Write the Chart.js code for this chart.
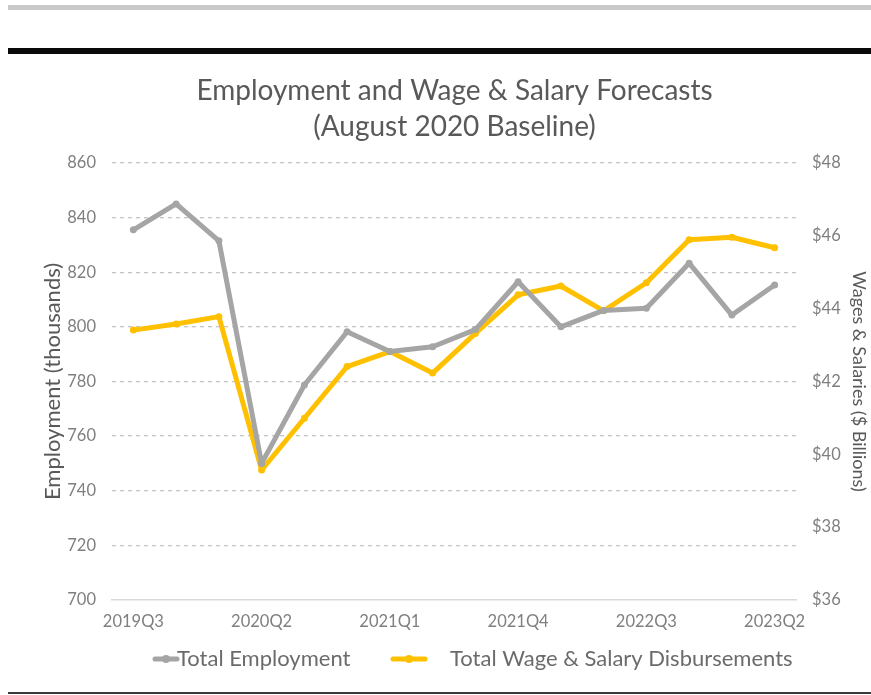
<!DOCTYPE html>
<html>
<head>
<meta charset="utf-8">
<title>Employment and Wage &amp; Salary Forecasts</title>
<script src="https://cdn.jsdelivr.net/npm/chart.js@4.4.1/dist/chart.umd.min.js"></script>
<style>
  html, body { margin: 0; padding: 0; background: #ffffff; }
  #wrap { width: 871px; height: 695px; position: relative; }
</style>
</head>
<body>
<div id="wrap"><canvas id="chart" width="871" height="695"></canvas></div>
<script>
// Quarterly forecast horizon
const quarters = [
  '2019Q3', '2019Q4', '2020Q1', '2020Q2', '2020Q3', '2020Q4', '2021Q1', '2021Q2',
  '2021Q3', '2021Q4', '2022Q1', '2022Q2', '2022Q3', '2022Q4', '2023Q1', '2023Q2'
];

// Total employment, thousands (left axis)
const employment = [
  835.5, 845.0, 831.5, 750.0, 778.7, 798.2, 791.0, 792.7,
  799.0, 816.5, 800.0, 806.0, 806.8, 823.3, 804.3, 815.3
];

// Total wage & salary disbursements, $ billions (right axis)
const wages = [
  43.41, 43.58, 43.78, 39.57, 40.99, 42.41, 42.82, 42.23,
  43.32, 44.38, 44.62, 43.94, 44.71, 45.89, 45.96, 45.67
];

// Axis ranges
const employmentRange = { min: 700, max: 860, step: 20 };
const wageRange = { min: 36, max: 48, step: 2 };

const GRAY = '#a5a5a5';
const GOLD = '#ffc000';
const FONT = 'Lato, "Open Sans", sans-serif';

// Page rules above and below the chart
const pageRules = {
  id: 'pageRules',
  beforeDraw(chart) {
    const { ctx, width } = chart;
    ctx.save();
    ctx.fillStyle = '#c9c9c9';
    ctx.fillRect(8, 5, width - 8, 5);
    ctx.fillStyle = '#0a0a0a';
    ctx.fillRect(8, 48, width - 8, 6);
    ctx.fillStyle = '#3a3a3a';
    ctx.fillRect(8, 692, width - 8, 2);
    ctx.restore();
  }
};

// Legend drawn as line-with-marker swatches under the x axis
const lineLegend = {
  id: 'lineLegend',
  afterDraw(chart) {
    const { ctx } = chart;
    const items = [
      { ds: chart.data.datasets[0], x0: 155, x1: 177, tx: 177 },
      { ds: chart.data.datasets[1], x0: 393, x1: 425, tx: 450 }
    ];
    const y = 659;
    ctx.save();
    ctx.font = '22px ' + FONT;
    ctx.textBaseline = 'middle';
    ctx.textAlign = 'left';
    items.forEach(it => {
      ctx.strokeStyle = it.ds.borderColor;
      ctx.lineWidth = 5;
      ctx.lineCap = 'round';
      ctx.beginPath();
      ctx.moveTo(it.x0, y);
      ctx.lineTo(it.x1, y);
      ctx.stroke();
      ctx.fillStyle = it.ds.borderColor;
      ctx.beginPath();
      ctx.arc((it.x0 + it.x1) / 2, y, 4, 0, Math.PI * 2);
      ctx.fill();
      ctx.fillStyle = '#6b6b6b';
      ctx.fillText(it.ds.label, it.tx, y);
    });
    ctx.restore();
  }
};

new Chart(document.getElementById('chart'), {
  type: 'line',
  data: {
    labels: quarters,
    datasets: [
      {
        label: 'Total Employment',
        data: employment,
        yAxisID: 'y',
        borderColor: GRAY,
        backgroundColor: GRAY,
        borderWidth: 5,
        pointRadius: 3.5,
        pointBorderWidth: 0,
        pointBackgroundColor: GRAY,
        tension: 0,
        borderJoinStyle: 'round'
      },
      {
        label: 'Total Wage & Salary Disbursements',
        data: wages,
        yAxisID: 'y1',
        borderColor: GOLD,
        backgroundColor: GOLD,
        borderWidth: 5,
        pointRadius: 3.5,
        pointBorderWidth: 0,
        pointBackgroundColor: GOLD,
        tension: 0,
        borderJoinStyle: 'round'
      }
    ]
  },
  options: {
    responsive: false,
    animation: false,
    layout: { padding: { top: 72, left: 38, right: 0, bottom: 0 } },
    plugins: {
      legend: { display: false },
      tooltip: { enabled: false },
      title: {
        display: true,
        text: ['Employment and Wage & Salary Forecasts', '(August 2020 Baseline)'],
        color: '#595959',
        font: { family: FONT, size: 28, weight: 'normal', lineHeight: 1.32 },
        padding: { top: 0, bottom: 17 }
      }
    },
    scales: {
      x: {
        type: 'category',
        offset: true,
        grid: { display: false, drawTicks: false },
        border: { display: true, color: '#d9d9d9', width: 1.5 },
        ticks: {
          autoSkip: false,
          maxRotation: 0,
          padding: 12,
          color: '#7f7f7f',
          font: { family: FONT, size: 16.5 },
          callback(value, index) { return index % 3 === 0 ? this.getLabelForValue(value) : ''; }
        },
        afterFit(scale) { scale.height = 95; }
      },
      y: {
        position: 'left',
        min: employmentRange.min,
        max: employmentRange.max,
        ticks: { stepSize: employmentRange.step, padding: 16, color: '#7f7f7f', font: { family: FONT, size: 16.5 } },
        grid: {
          drawTicks: false,
          lineWidth: 1.3,
          color: ctx => (ctx.tick && ctx.tick.value === employmentRange.min ? 'rgba(0,0,0,0)' : '#c4c4c4')
        },
        border: { display: false, dash: [4, 4] },
        title: {
          display: true,
          text: 'Employment (thousands)',
          color: '#595959',
          font: { family: FONT, size: 22 },
          padding: { top: 2, bottom: 0 }
        },
        afterFit(scale) { scale.width = 74; }
      },
      y1: {
        position: 'right',
        min: wageRange.min,
        max: wageRange.max,
        ticks: {
          stepSize: wageRange.step,
          padding: 16,
          color: '#7f7f7f',
          font: { family: FONT, size: 16.5 },
          callback: v => '$' + v
        },
        grid: { drawOnChartArea: false, drawTicks: false },
        border: { display: false },
        title: {
          display: true,
          text: 'Wages & Salaries ($ Billions)',
          color: '#595959',
          font: { family: FONT, size: 18 },
          padding: { top: 1, bottom: 0 }
        },
        afterFit(scale) { scale.width = 75; }
      }
    }
  },
  plugins: [pageRules, lineLegend]
});
</script>
</body>
</html>
